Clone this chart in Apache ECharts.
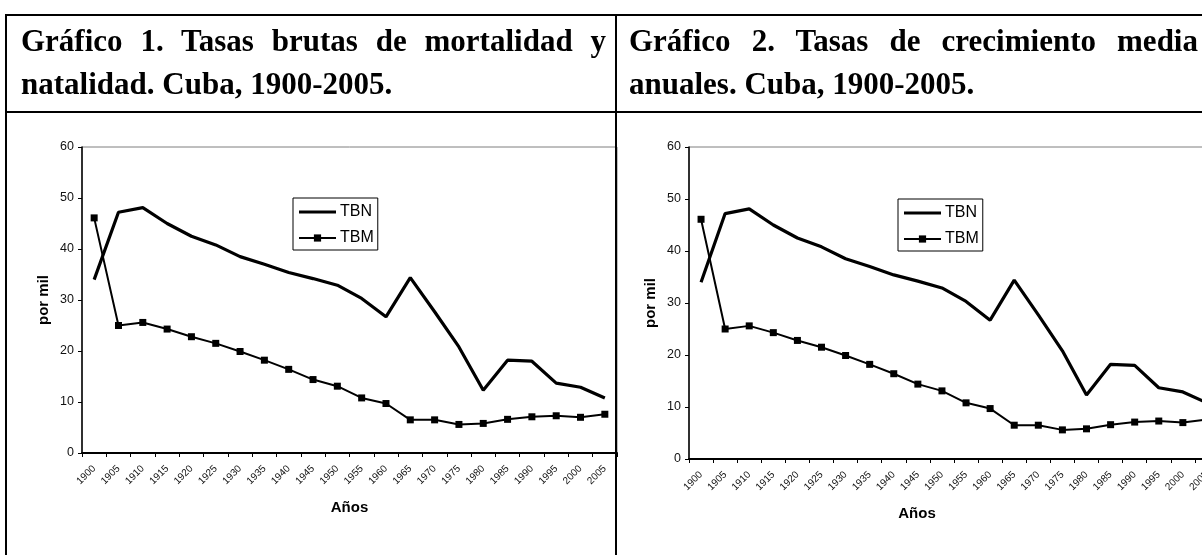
<!DOCTYPE html>
<html>
<head>
<meta charset="utf-8">
<script src="https://cdn.jsdelivr.net/npm/echarts@6/dist/echarts.min.js"></script>
<style>
  html, body { margin:0; padding:0; background:#fff; width:1202px; height:555px; overflow:hidden; }
  #wrap { position:absolute; left:0; top:0; width:1202px; height:555px; overflow:hidden; }
  #chart { position:absolute; left:0; top:0; width:1260px; height:555px; }
  .ln { position:absolute; background:#000; z-index:5; }
  .title { position:absolute; z-index:6; font-family:"Liberation Serif","Times New Roman",serif; font-weight:bold; font-size:31px; line-height:31px; color:#000; white-space:nowrap; }
  .just { text-align:justify; text-align-last:justify; white-space:normal; }
</style>
</head>
<body>
<div id="wrap">
<div id="chart"></div>
<div class="ln" style="left:5px;top:14px;width:1197px;height:2px;"></div>
<div class="ln" style="left:5px;top:14px;width:2px;height:541px;"></div>
<div class="ln" style="left:5px;top:111px;width:1197px;height:2px;"></div>
<div class="ln" style="left:615px;top:14px;width:2px;height:541px;"></div>
<div id="t1a" class="title just" style="left:21px;top:25px;width:585px;"></div>
<div id="t1b" class="title" style="left:21px;top:68px;"></div>
<div id="t2a" class="title just" style="left:629px;top:25px;width:569px;"></div>
<div id="t2b" class="title" style="left:629px;top:68px;"></div>
</div>
<script>
// ---- data ----
const titles1 = ['Gráfico 1. Tasas brutas de mortalidad y', 'natalidad. Cuba, 1900-2005.'];
const titles2 = ['Gráfico 2. Tasas de crecimiento media', 'anuales. Cuba, 1900-2005.'];
const years = ['1900','1905','1910','1915','1920','1925','1930','1935','1940','1945','1950',
               '1955','1960','1965','1970','1975','1980','1985','1990','1995','2000','2005'];
const tbn = [34.0, 47.2, 48.1, 45.0, 42.5, 40.8, 38.5, 37.0, 35.4, 34.2, 32.9,
             30.3, 26.7, 34.4, 27.7, 20.8, 12.3, 18.2, 18.0, 13.7, 12.9, 10.8];
const tbm = [46.1, 25.0, 25.6, 24.3, 22.8, 21.5, 19.9, 18.2, 16.4, 14.4, 13.1,
             10.8, 9.7, 6.5, 6.5, 5.6, 5.8, 6.6, 7.1, 7.3, 7.0, 7.6];
const seriesNames = ['TBN', 'TBM'];
const xName = 'Años';
const yName = 'por mil';

document.getElementById('t1a').textContent = titles1[0];
document.getElementById('t1b').textContent = titles1[1];
document.getElementById('t2a').textContent = titles2[0];
document.getElementById('t2b').textContent = titles2[1];

const FONT = '"Liberation Sans", Arial, sans-serif';
const grids = [
  { left: 82, top: 147, width: 535, height: 306 },
  { left: 689, top: 147, width: 530, height: 312 }
];
const legendPos = [ { left: 293, top: 198 }, { left: 898, top: 199 } ];
const xNameShift = [0, 74];

function xAxis(i) {
  return {
    type: 'category', gridIndex: i, data: years, boundaryGap: true,
    name: xName, nameLocation: 'middle', nameGap: 47,
    nameTextStyle: { fontFamily: FONT, fontWeight: 'bold', fontSize: 15, color: '#000',
                     padding: [0, xNameShift[i], 0, 0] },
    axisLine: { lineStyle: { color: '#000', width: 2 } },
    axisTick: { show: true, length: 4, lineStyle: { color: '#000', width: 1 } },
    axisLabel: { interval: 0, rotate: 45, fontSize: 10, fontFamily: FONT, color: '#111', margin: 14 },
    splitLine: { show: false }
  };
}
function yAxis(i) {
  return {
    type: 'value', gridIndex: i, min: 0, max: 60, interval: 10,
    name: yName, nameLocation: 'middle', nameGap: 31, nameRotate: 90,
    nameTextStyle: { fontFamily: FONT, fontWeight: 'bold', fontSize: 15, color: '#000' },
    axisLine: { show: true, lineStyle: { color: '#000', width: 1.5 } },
    axisTick: { show: true, length: 4, lineStyle: { color: '#000', width: 1 } },
    axisLabel: { fontSize: 12.5, fontFamily: FONT, color: '#111', margin: 8 },
    splitLine: { show: false }
  };
}
function legend(i) {
  return {
    data: [
      { name: seriesNames[0], icon: 'path://M0,0 H37 V3.2 H0 Z' },
      { name: seriesNames[1] }
    ],
    orient: 'vertical',
    left: legendPos[i].left, top: legendPos[i].top,
    padding: [6, 4, 4, 5], itemGap: 10, itemWidth: 37, itemHeight: 9,
    borderColor: '#000', borderWidth: 1, backgroundColor: '#fff',
    textStyle: { fontFamily: FONT, fontSize: 16, color: '#000', padding: [0, 0, 0, -1] },
    selectedMode: false
  };
}
function series(i) {
  return [
    { name: seriesNames[0], type: 'line', xAxisIndex: i, yAxisIndex: i, data: tbn,
      symbol: 'none', lineStyle: { color: '#000', width: 3.2 }, itemStyle: { color: '#000' },
      animation: false },
    { name: seriesNames[1], type: 'line', xAxisIndex: i, yAxisIndex: i, data: tbm,
      symbol: 'rect', symbolSize: 7, lineStyle: { color: '#000', width: 2 }, itemStyle: { color: '#000' },
      animation: false }
  ];
}
const chart = echarts.init(document.getElementById('chart'), null, { renderer: 'canvas' });
chart.setOption({
  animation: false,
  backgroundColor: '#fff',
  grid: grids.map(g => Object.assign({ show: true, borderColor: '#7f7f7f', borderWidth: 1, backgroundColor: 'transparent' }, g)),
  xAxis: [xAxis(0), xAxis(1)],
  yAxis: [yAxis(0), yAxis(1)],
  legend: [legend(0), legend(1)],
  series: series(0).concat(series(1))
});
</script>
</body>
</html>
